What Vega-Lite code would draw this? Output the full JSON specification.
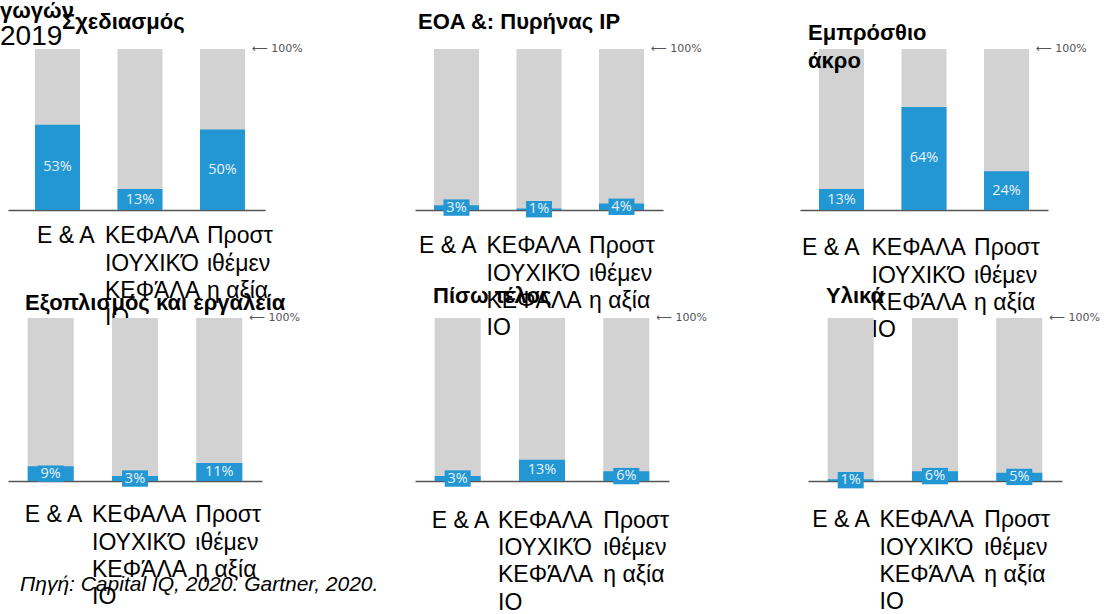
{
  "$schema": "https://vega.github.io/schema/vega-lite/v6.json",
  "padding": 0,
  "background": "white",
  "bounds": "flush",
  "spacing": 269,
  "title": {"text": "γωγών", "subtitle": "2019", "anchor": "start", "frame": "group", "dx": -8, "offset": -41, "fontSize": 22, "fontWeight": "bold", "subtitleFont": "Liberation Sans", "subtitleFontSize": 28, "subtitleColor": "#000000", "subtitlePadding": 0},
  "datasets": {
    "shares": [
      {"panel": "Σχεδιασμός", "category": "Ε & Α", "share": 0.53, "total": 1},
      {"panel": "Σχεδιασμός", "category": "ΚΕΦΑΛΑΙΟΥΧΙΚΌ ΚΕΦΆΛΑΙΟ", "share": 0.13, "total": 1},
      {"panel": "Σχεδιασμός", "category": "Προστιθέμενη αξία", "share": 0.50, "total": 1},
      {"panel": "EOA &: Πυρήνας IP", "category": "Ε & Α", "share": 0.03, "total": 1},
      {"panel": "EOA &: Πυρήνας IP", "category": "ΚΕΦΑΛΑΙΟΥΧΙΚΌ ΚΕΦΆΛΑΙΟ", "share": 0.01, "total": 1},
      {"panel": "EOA &: Πυρήνας IP", "category": "Προστιθέμενη αξία", "share": 0.04, "total": 1},
      {"panel": "Εμπρόσθιο άκρο", "category": "Ε & Α", "share": 0.13, "total": 1},
      {"panel": "Εμπρόσθιο άκρο", "category": "ΚΕΦΑΛΑΙΟΥΧΙΚΌ ΚΕΦΆΛΑΙΟ", "share": 0.64, "total": 1},
      {"panel": "Εμπρόσθιο άκρο", "category": "Προστιθέμενη αξία", "share": 0.24, "total": 1},
      {"panel": "Εξοπλισμός και εργαλεία", "category": "Ε & Α", "share": 0.09, "total": 1},
      {"panel": "Εξοπλισμός και εργαλεία", "category": "ΚΕΦΑΛΑΙΟΥΧΙΚΌ ΚΕΦΆΛΑΙΟ", "share": 0.03, "total": 1},
      {"panel": "Εξοπλισμός και εργαλεία", "category": "Προστιθέμενη αξία", "share": 0.11, "total": 1},
      {"panel": "Πίσω τέλος", "category": "Ε & Α", "share": 0.03, "total": 1},
      {"panel": "Πίσω τέλος", "category": "ΚΕΦΑΛΑΙΟΥΧΙΚΌ ΚΕΦΆΛΑΙΟ", "share": 0.13, "total": 1},
      {"panel": "Πίσω τέλος", "category": "Προστιθέμενη αξία", "share": 0.06, "total": 1},
      {"panel": "Υλικά", "category": "Ε & Α", "share": 0.01, "total": 1},
      {"panel": "Υλικά", "category": "ΚΕΦΑΛΑΙΟΥΧΙΚΌ ΚΕΦΆΛΑΙΟ", "share": 0.06, "total": 1},
      {"panel": "Υλικά", "category": "Προστιθέμενη αξία", "share": 0.05, "total": 1}
    ]
  },
  "data": {"name": "shares"},
  "vconcat": [
    {
      "bounds": "flush",
      "spacing": 150,
      "hconcat": [
        {
          "width": 257, "height": 161,
          "title": {"text": "Σχεδιασμός", "dx": 54, "offset": 9},
          "transform": [{"filter": "datum.panel == 'Σχεδιασμός'"}],
          "encoding": {"x": {"field": "category", "type": "nominal", "sort": null,
            "scale": {"paddingInner": 0.4545, "paddingOuter": 0.285, "align": 0.574},
            "axis": {"labelPadding": 14.8,
              "labelOffset": {"condition": [{"test": "datum.value == 'ΚΕΦΑΛΑΙΟΥΧΙΚΌ ΚΕΦΆΛΑΙΟ'", "value": -35}, {"test": "datum.value == 'Προστιθέμενη αξία'", "value": -15.5}], "value": -20.5},
              "labelExpr": "datum.label == 'ΚΕΦΑΛΑΙΟΥΧΙΚΌ ΚΕΦΆΛΑΙΟ' ? ['ΚΕΦΑΛΑ','ΙΟΥΧΙΚΌ','ΚΕΦΆΛΑ','ΙΟ'] : datum.label == 'Προστιθέμενη αξία' ? ['Προστ','ιθέμεν','η αξία'] : datum.label"}}},
          "layer": [
            {"mark": {"type": "bar", "color": "#d2d2d2"}, "encoding": {"y": {"field": "total", "type": "quantitative", "scale": {"domain": [0, 1], "nice": false}, "axis": null}}},
            {"mark": {"type": "bar", "color": "#2396d4"}, "encoding": {"y": {"field": "share", "type": "quantitative", "scale": {"domain": [0, 1], "nice": false}, "axis": null}}},
            {"mark": {"type": "point", "shape": "M-1,-0.63H1V0.63H-1Z", "size": 676, "filled": true, "color": "#2396d4", "opacity": 1}, "encoding": {"y": {"field": "share", "type": "quantitative", "scale": {"domain": [0, 2], "nice": false}, "axis": null}}},
            {"mark": {"type": "text", "color": "#e6f2fa", "font": "Open Sans", "fontSize": 14.5, "baseline": "middle"}, "encoding": {"y": {"field": "share", "type": "quantitative", "scale": {"domain": [0, 2], "nice": false}, "axis": null}, "text": {"field": "share", "type": "quantitative", "format": ".0%"}}},
            {"transform": [{"filter": "datum.category == 'Προστιθέμενη αξία'"}], "mark": {"type": "text", "align": "left", "baseline": "middle", "dx": 7, "font": "DejaVu Sans", "fontSize": 11, "color": "#555555"}, "encoding": {"x": {"field": "category", "type": "nominal", "sort": null, "bandPosition": 1}, "y": {"field": "total", "type": "quantitative", "scale": {"domain": [0, 1], "nice": false}, "axis": null}, "text": {"value": "⟵ 100%"}}}
          ],
          "resolve": {"scale": {"y": "independent"}}
        },
        {
          "bounds": "flush",
          "spacing": 137,
          "hconcat": [
            {
              "width": 248, "height": 161,
              "title": {"text": "EOA &: Πυρήνας IP", "dx": 3, "offset": 9},
              "transform": [{"filter": "datum.panel == 'EOA &: Πυρήνας IP'"}],
              "encoding": {"x": {"field": "category", "type": "nominal", "sort": null,
                "scale": {"paddingInner": 0.4545, "paddingOuter": 0.23, "align": 0.5},
                "axis": {"labelPadding": 24.8,
                  "labelOffset": {"condition": [{"test": "datum.value == 'ΚΕΦΑΛΑΙΟΥΧΙΚΌ ΚΕΦΆΛΑΙΟ'", "value": -52.5}, {"test": "datum.value == 'Προστιθέμενη αξία'", "value": -32.5}], "value": -37.5},
                  "labelExpr": "datum.label == 'ΚΕΦΑΛΑΙΟΥΧΙΚΌ ΚΕΦΆΛΑΙΟ' ? ['ΚΕΦΑΛΑ','ΙΟΥΧΙΚΌ','ΚΕΦΆΛΑ','ΙΟ'] : datum.label == 'Προστιθέμενη αξία' ? ['Προστ','ιθέμεν','η αξία'] : datum.label"}}},
              "layer": [
                {"mark": {"type": "bar", "color": "#d2d2d2"}, "encoding": {"y": {"field": "total", "type": "quantitative", "scale": {"domain": [0, 1], "nice": false}, "axis": null}}},
                {"mark": {"type": "bar", "color": "#2396d4"}, "encoding": {"y": {"field": "share", "type": "quantitative", "scale": {"domain": [0, 1], "nice": false}, "axis": null}}},
                {"mark": {"type": "point", "shape": "M-1,-0.63H1V0.63H-1Z", "size": 676, "filled": true, "color": "#2396d4", "opacity": 1}, "encoding": {"y": {"field": "share", "type": "quantitative", "scale": {"domain": [0, 2], "nice": false}, "axis": null}}},
                {"mark": {"type": "text", "color": "#e6f2fa", "font": "Open Sans", "fontSize": 14.5, "baseline": "middle"}, "encoding": {"y": {"field": "share", "type": "quantitative", "scale": {"domain": [0, 2], "nice": false}, "axis": null}, "text": {"field": "share", "type": "quantitative", "format": ".0%"}}},
                {"transform": [{"filter": "datum.category == 'Προστιθέμενη αξία'"}], "mark": {"type": "text", "align": "left", "baseline": "middle", "dx": 7, "font": "DejaVu Sans", "fontSize": 11, "color": "#555555"}, "encoding": {"x": {"field": "category", "type": "nominal", "sort": null, "bandPosition": 1}, "y": {"field": "total", "type": "quantitative", "scale": {"domain": [0, 1], "nice": false}, "axis": null}, "text": {"value": "⟵ 100%"}}}
              ],
              "resolve": {"scale": {"y": "independent"}}
            },
            {
              "width": 248, "height": 161,
              "title": {"text": ["Εμπρόσθιο", "άκρο"], "dx": 8, "offset": -30, "lineHeight": 28},
              "transform": [{"filter": "datum.panel == 'Εμπρόσθιο άκρο'"}],
              "encoding": {"x": {"field": "category", "type": "nominal", "sort": null,
                "scale": {"paddingInner": 0.4545, "paddingOuter": 0.23, "align": 0.5},
                "axis": {"labelPadding": 26.8,
                  "labelOffset": {"condition": [{"test": "datum.value == 'ΚΕΦΑΛΑΙΟΥΧΙΚΌ ΚΕΦΆΛΑΙΟ'", "value": -52.5}, {"test": "datum.value == 'Προστιθέμενη αξία'", "value": -32.5}], "value": -39.5},
                  "labelExpr": "datum.label == 'ΚΕΦΑΛΑΙΟΥΧΙΚΌ ΚΕΦΆΛΑΙΟ' ? ['ΚΕΦΑΛΑ','ΙΟΥΧΙΚΌ','ΚΕΦΆΛΑ','ΙΟ'] : datum.label == 'Προστιθέμενη αξία' ? ['Προστ','ιθέμεν','η αξία'] : datum.label"}}},
              "layer": [
                {"mark": {"type": "bar", "color": "#d2d2d2"}, "encoding": {"y": {"field": "total", "type": "quantitative", "scale": {"domain": [0, 1], "nice": false}, "axis": null}}},
                {"mark": {"type": "bar", "color": "#2396d4"}, "encoding": {"y": {"field": "share", "type": "quantitative", "scale": {"domain": [0, 1], "nice": false}, "axis": null}}},
                {"mark": {"type": "point", "shape": "M-1,-0.63H1V0.63H-1Z", "size": 676, "filled": true, "color": "#2396d4", "opacity": 1}, "encoding": {"y": {"field": "share", "type": "quantitative", "scale": {"domain": [0, 2], "nice": false}, "axis": null}}},
                {"mark": {"type": "text", "color": "#e6f2fa", "font": "Open Sans", "fontSize": 14.5, "baseline": "middle"}, "encoding": {"y": {"field": "share", "type": "quantitative", "scale": {"domain": [0, 2], "nice": false}, "axis": null}, "text": {"field": "share", "type": "quantitative", "format": ".0%"}}},
                {"transform": [{"filter": "datum.category == 'Προστιθέμενη αξία'"}], "mark": {"type": "text", "align": "left", "baseline": "middle", "dx": 7, "font": "DejaVu Sans", "fontSize": 11, "color": "#555555"}, "encoding": {"x": {"field": "category", "type": "nominal", "sort": null, "bandPosition": 1}, "y": {"field": "total", "type": "quantitative", "scale": {"domain": [0, 1], "nice": false}, "axis": null}, "text": {"value": "⟵ 100%"}}}
              ],
              "resolve": {"scale": {"y": "independent"}}
            }
          ]
        }
      ]
    },
    {
      "bounds": "flush",
      "spacing": 153,
      "title": {"text": "Πηγή: Capital IQ, 2020. Gartner, 2020.", "orient": "bottom", "dx": 12, "offset": -40, "fontSize": 21, "fontWeight": "normal", "fontStyle": "italic"},
      "hconcat": [
        {
          "width": 254, "height": 163,
          "title": {"text": "Εξοπλισμός και εργαλεία", "dx": 17, "offset": -3},
          "transform": [{"filter": "datum.panel == 'Εξοπλισμός και εργαλεία'"}],
          "encoding": {"x": {"field": "category", "type": "nominal", "sort": null,
            "scale": {"paddingInner": 0.454, "paddingOuter": 0.2335, "align": 0.5},
            "axis": {"labelPadding": 22.8,
              "labelOffset": {"condition": [{"test": "datum.value == 'ΚΕΦΑΛΑΙΟΥΧΙΚΌ ΚΕΦΆΛΑΙΟ'", "value": -43}, {"test": "datum.value == 'Προστιθέμενη αξία'", "value": -24}], "value": -26},
              "labelExpr": "datum.label == 'ΚΕΦΑΛΑΙΟΥΧΙΚΌ ΚΕΦΆΛΑΙΟ' ? ['ΚΕΦΑΛΑ','ΙΟΥΧΙΚΌ','ΚΕΦΆΛΑ','ΙΟ'] : datum.label == 'Προστιθέμενη αξία' ? ['Προστ','ιθέμεν','η αξία'] : datum.label"}}},
          "layer": [
            {"mark": {"type": "bar", "color": "#d2d2d2"}, "encoding": {"y": {"field": "total", "type": "quantitative", "scale": {"domain": [0, 1], "nice": false}, "axis": null}}},
            {"mark": {"type": "bar", "color": "#2396d4"}, "encoding": {"y": {"field": "share", "type": "quantitative", "scale": {"domain": [0, 1], "nice": false}, "axis": null}}},
            {"mark": {"type": "point", "shape": "M-1,-0.63H1V0.63H-1Z", "size": 676, "filled": true, "color": "#2396d4", "opacity": 1}, "encoding": {"y": {"field": "share", "type": "quantitative", "scale": {"domain": [0, 2], "nice": false}, "axis": null}}},
            {"mark": {"type": "text", "color": "#e6f2fa", "font": "Open Sans", "fontSize": 14.5, "baseline": "middle"}, "encoding": {"y": {"field": "share", "type": "quantitative", "scale": {"domain": [0, 2], "nice": false}, "axis": null}, "text": {"field": "share", "type": "quantitative", "format": ".0%"}}},
            {"transform": [{"filter": "datum.category == 'Προστιθέμενη αξία'"}], "mark": {"type": "text", "align": "left", "baseline": "middle", "dx": 7, "font": "DejaVu Sans", "fontSize": 11, "color": "#555555"}, "encoding": {"x": {"field": "category", "type": "nominal", "sort": null, "bandPosition": 1}, "y": {"field": "total", "type": "quantitative", "scale": {"domain": [0, 1], "nice": false}, "axis": null}, "text": {"value": "⟵ 100%"}}}
          ],
          "resolve": {"scale": {"y": "independent"}}
        },
        {
          "bounds": "flush",
          "spacing": 139,
          "hconcat": [
            {
              "width": 254, "height": 163,
              "title": {"text": "Πίσω τέλος", "dx": 18, "offset": 4},
              "transform": [{"filter": "datum.panel == 'Πίσω τέλος'"}],
              "encoding": {"x": {"field": "category", "type": "nominal", "sort": null,
                "scale": {"paddingInner": 0.454, "paddingOuter": 0.2335, "align": 0.5},
                "axis": {"labelPadding": 28.3,
                  "labelOffset": {"condition": [{"test": "datum.value == 'ΚΕΦΑΛΑΙΟΥΧΙΚΌ ΚΕΦΆΛΑΙΟ'", "value": -44}, {"test": "datum.value == 'Προστιθέμενη αξία'", "value": -23}], "value": -26},
                  "labelExpr": "datum.label == 'ΚΕΦΑΛΑΙΟΥΧΙΚΌ ΚΕΦΆΛΑΙΟ' ? ['ΚΕΦΑΛΑ','ΙΟΥΧΙΚΌ','ΚΕΦΆΛΑ','ΙΟ'] : datum.label == 'Προστιθέμενη αξία' ? ['Προστ','ιθέμεν','η αξία'] : datum.label"}}},
              "layer": [
                {"mark": {"type": "bar", "color": "#d2d2d2"}, "encoding": {"y": {"field": "total", "type": "quantitative", "scale": {"domain": [0, 1], "nice": false}, "axis": null}}},
                {"mark": {"type": "bar", "color": "#2396d4"}, "encoding": {"y": {"field": "share", "type": "quantitative", "scale": {"domain": [0, 1], "nice": false}, "axis": null}}},
                {"mark": {"type": "point", "shape": "M-1,-0.63H1V0.63H-1Z", "size": 676, "filled": true, "color": "#2396d4", "opacity": 1}, "encoding": {"y": {"field": "share", "type": "quantitative", "scale": {"domain": [0, 2], "nice": false}, "axis": null}}},
                {"mark": {"type": "text", "color": "#e6f2fa", "font": "Open Sans", "fontSize": 14.5, "baseline": "middle"}, "encoding": {"y": {"field": "share", "type": "quantitative", "scale": {"domain": [0, 2], "nice": false}, "axis": null}, "text": {"field": "share", "type": "quantitative", "format": ".0%"}}},
                {"transform": [{"filter": "datum.category == 'Προστιθέμενη αξία'"}], "mark": {"type": "text", "align": "left", "baseline": "middle", "dx": 7, "font": "DejaVu Sans", "fontSize": 11, "color": "#555555"}, "encoding": {"x": {"field": "category", "type": "nominal", "sort": null, "bandPosition": 1}, "y": {"field": "total", "type": "quantitative", "scale": {"domain": [0, 1], "nice": false}, "axis": null}, "text": {"value": "⟵ 100%"}}}
              ],
              "resolve": {"scale": {"y": "independent"}}
            },
            {
              "width": 254, "height": 163,
              "title": {"text": "Υλικά", "dx": 18, "offset": 4},
              "transform": [{"filter": "datum.panel == 'Υλικά'"}],
              "encoding": {"x": {"field": "category", "type": "nominal", "sort": null,
                "scale": {"paddingInner": 0.454, "paddingOuter": 0.2335, "align": 0.5},
                "axis": {"labelPadding": 27.8,
                  "labelOffset": {"condition": [{"test": "datum.value == 'ΚΕΦΑΛΑΙΟΥΧΙΚΌ ΚΕΦΆΛΑΙΟ'", "value": -55.5}, {"test": "datum.value == 'Προστιθέμενη αξία'", "value": -35}], "value": -38.5},
                  "labelExpr": "datum.label == 'ΚΕΦΑΛΑΙΟΥΧΙΚΌ ΚΕΦΆΛΑΙΟ' ? ['ΚΕΦΑΛΑ','ΙΟΥΧΙΚΌ','ΚΕΦΆΛΑ','ΙΟ'] : datum.label == 'Προστιθέμενη αξία' ? ['Προστ','ιθέμεν','η αξία'] : datum.label"}}},
              "layer": [
                {"mark": {"type": "bar", "color": "#d2d2d2"}, "encoding": {"y": {"field": "total", "type": "quantitative", "scale": {"domain": [0, 1], "nice": false}, "axis": null}}},
                {"mark": {"type": "bar", "color": "#2396d4"}, "encoding": {"y": {"field": "share", "type": "quantitative", "scale": {"domain": [0, 1], "nice": false}, "axis": null}}},
                {"mark": {"type": "point", "shape": "M-1,-0.63H1V0.63H-1Z", "size": 676, "filled": true, "color": "#2396d4", "opacity": 1}, "encoding": {"y": {"field": "share", "type": "quantitative", "scale": {"domain": [0, 2], "nice": false}, "axis": null}}},
                {"mark": {"type": "text", "color": "#e6f2fa", "font": "Open Sans", "fontSize": 14.5, "baseline": "middle"}, "encoding": {"y": {"field": "share", "type": "quantitative", "scale": {"domain": [0, 2], "nice": false}, "axis": null}, "text": {"field": "share", "type": "quantitative", "format": ".0%"}}},
                {"transform": [{"filter": "datum.category == 'Προστιθέμενη αξία'"}], "mark": {"type": "text", "align": "left", "baseline": "middle", "dx": 7, "font": "DejaVu Sans", "fontSize": 11, "color": "#555555"}, "encoding": {"x": {"field": "category", "type": "nominal", "sort": null, "bandPosition": 1}, "y": {"field": "total", "type": "quantitative", "scale": {"domain": [0, 1], "nice": false}, "axis": null}, "text": {"value": "⟵ 100%"}}}
              ],
              "resolve": {"scale": {"y": "independent"}}
            }
          ]
        }
      ]
    }
  ],
  "config": {
    "view": {"stroke": null},
    "font": "Liberation Sans",
    "title": {"font": "Liberation Sans", "fontSize": 22, "fontWeight": "bold", "color": "#000000", "anchor": "start", "frame": "group", "orient": "top"},
    "axisX": {"title": null, "domainColor": "#555555", "domainWidth": 1.5, "ticks": false, "tickSize": 0, "grid": false, "labelAngle": 0, "labelAlign": "left", "labelBaseline": "top", "labelFont": "Liberation Sans", "labelFontSize": 23, "labelColor": "#000000", "labelLineHeight": 27.3, "labelLimit": 0, "labelOverlap": false, "labelBound": false, "labelFlush": false}
  }
}
